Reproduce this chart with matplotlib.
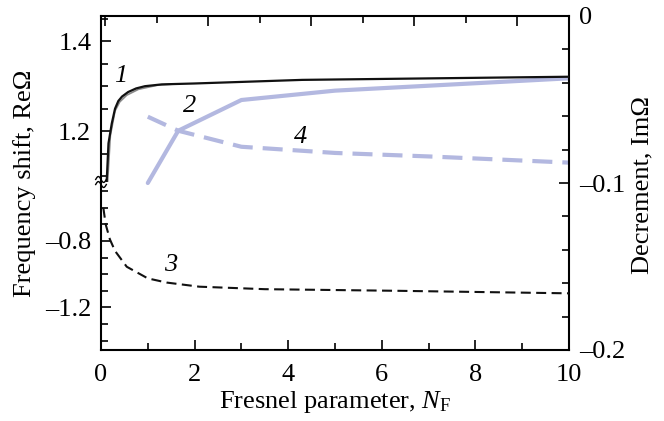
import matplotlib
matplotlib.use("Agg")
import matplotlib.pyplot as plt
import numpy as np
from matplotlib.ticker import MultipleLocator

plt.rcParams['font.family'] = 'serif'
plt.rcParams['font.serif'] = ['Liberation Serif', 'DejaVu Serif']
plt.rcParams['mathtext.fontset'] = 'custom'
plt.rcParams['mathtext.rm'] = 'Liberation Serif'
plt.rcParams['mathtext.it'] = 'Liberation Serif:italic'
plt.rcParams['font.size'] = 19

# curve 1: Re(Omega), upper part of the broken left axis
re1_x = [0.09, 0.12, 0.16, 0.23, 0.30, 0.37, 0.45, 0.58, 0.75, 0.94, 1.3, 2.0, 4.3, 10.0]
re1_y = [1.05, 1.085, 1.173, 1.217, 1.250, 1.267, 1.277, 1.287, 1.295, 1.300, 1.304, 1.306, 1.314, 1.321]
# grey twin trace under curve 1
re1b_x = [0.14, 0.20, 0.30, 0.40, 0.55, 0.80, 1.2, 1.6]
re1b_y = [1.085, 1.19, 1.245, 1.265, 1.280, 1.293, 1.302, 1.305]
# curve 3: Re(Omega), lower part of the broken left axis
re3_x = [0.05, 0.10, 0.19, 0.30, 0.55, 1.0, 1.4, 2.1, 3.5, 6.4, 10.0]
re3_y = [-0.60, -0.70, -0.79, -0.86, -0.955, -1.025, -1.05, -1.075, -1.09, -1.10, -1.115]
# curves 2 and 4: Im(Omega), right axis
im2_x = [1.0, 1.65, 3.0, 5.0, 10.0]
im2_y = [-0.100, -0.0687, -0.0503, -0.0447, -0.0373]
im4_x = [1.0, 1.65, 3.0, 5.0, 7.1, 10.0]
im4_y = [-0.0603, -0.0687, -0.0783, -0.0820, -0.0842, -0.0878]

BLUE = '#b3b8e0'
L, R, B, T = 101 / 664, 569 / 664, 1 - 350 / 421, 1 - 16 / 421
BRK = 1 - 182 / 421

fig = plt.figure(figsize=(6.64, 4.21), dpi=100)

# main frame: x axis + right axis (decrement)
ax = fig.add_axes([L, B, R - L, T - B])
ax.set_xlim(0, 10)
ax.set_ylim(-0.2, 0)
ax.plot(im2_x, im2_y, color=BLUE, lw=3, solid_capstyle='round')
ax.plot(im4_x, im4_y, color=BLUE, lw=3, dashes=(4.8, 2.4))
ax.yaxis.tick_right()
ax.set_yticks([0, -0.1, -0.2])
ax.set_yticklabels(['0', '\u20130.1', '\u20130.2'])
ax.yaxis.set_minor_locator(MultipleLocator(0.02))
ax.xaxis.set_major_locator(MultipleLocator(2))
ax.xaxis.set_minor_locator(MultipleLocator(1))
ax.tick_params(which='both', direction='in', width=1.2, pad=7)
ax.tick_params(which='major', length=7)
ax.tick_params(which='minor', length=5)
ax.tick_params(axis='x', pad=10)
ax.spines['left'].set_visible(False)
for s in ['right', 'bottom', 'top']:
    ax.spines[s].set_linewidth(1.5)
ax.set_xlabel('Fresnel parameter, $\\mathit{N}_\\mathrm{F}$', labelpad=2)
fig.text(642 / 664, 1 - 185 / 421, 'Decrement, Im\u03a9', rotation=90,
         ha='center', va='center')

# top ticks (own spacing)
axt = ax.twiny()
axt.set_xlim(0, 1)
axt.set_xticks(np.linspace(0.009, 1.0, 10)[::2])
axt.set_xticks(np.linspace(0.009, 1.0, 10)[1::2], minor=True)
axt.tick_params(which='both', direction='in', width=1.2, labeltop=False)
axt.tick_params(which='major', length=7)
axt.tick_params(which='minor', length=5)
for s in axt.spines.values():
    s.set_visible(False)

# upper left axis (Re, positive part)
axu = fig.add_axes([L, BRK, R - L, T - BRK])
axu.patch.set_alpha(0)
axu.set_xlim(0, 10)
axu.set_ylim(1.087, 1.456)
axu.plot(re1b_x, re1b_y, color='#8a8a8a', lw=1.2)
axu.plot(re1_x, re1_y, color='#111111', lw=1.6)
axu.set_yticks([1.2, 1.4])
axu.yaxis.set_minor_locator(MultipleLocator(0.05))

# lower left axis (Re, negative part)
axl = fig.add_axes([L, B, R - L, BRK - B])
axl.patch.set_alpha(0)
axl.set_xlim(0, 10)
axl.set_ylim(-1.456, -0.445)
axl.plot(re3_x, re3_y, color='#111111', lw=1.5, dashes=(4.8, 2.6))
axl.set_yticks([-0.8, -1.2])
axl.set_yticklabels(['\u20130.8', '\u20131.2'])
axl.yaxis.set_minor_locator(MultipleLocator(0.1))

for a in (axu, axl):
    for s in ['right', 'bottom', 'top']:
        a.spines[s].set_visible(False)
    a.spines['left'].set_linewidth(1.5)
    a.set_xticks([])
    a.tick_params(which='both', direction='in', width=1.2, pad=7)
    a.tick_params(which='major', length=7)
    a.tick_params(which='minor', length=5)

# break mark on the left spine
xb = 101 / 664
yb = BRK
t = np.linspace(0, 1, 30)
for dy in (0.006, -0.006):
    fig.add_artist(plt.Line2D(xb + (t - 0.5) * 0.016,
                              yb + dy + 0.007 * np.sin(2 * np.pi * t),
                              color='black', lw=1.0))

# curve numbers
for txt, px, py in [('1', 121, 76), ('2', 190, 106), ('4', 301, 137), ('3', 171, 265)]:
    fig.text(px / 664, 1 - py / 421, txt, style='italic', ha='center', va='center')

fig.text(25 / 664, 1 - 183 / 421, 'Frequency shift, Re\u03a9', rotation=90,
         ha='center', va='center')

fig.savefig('out.png', dpi=100)
